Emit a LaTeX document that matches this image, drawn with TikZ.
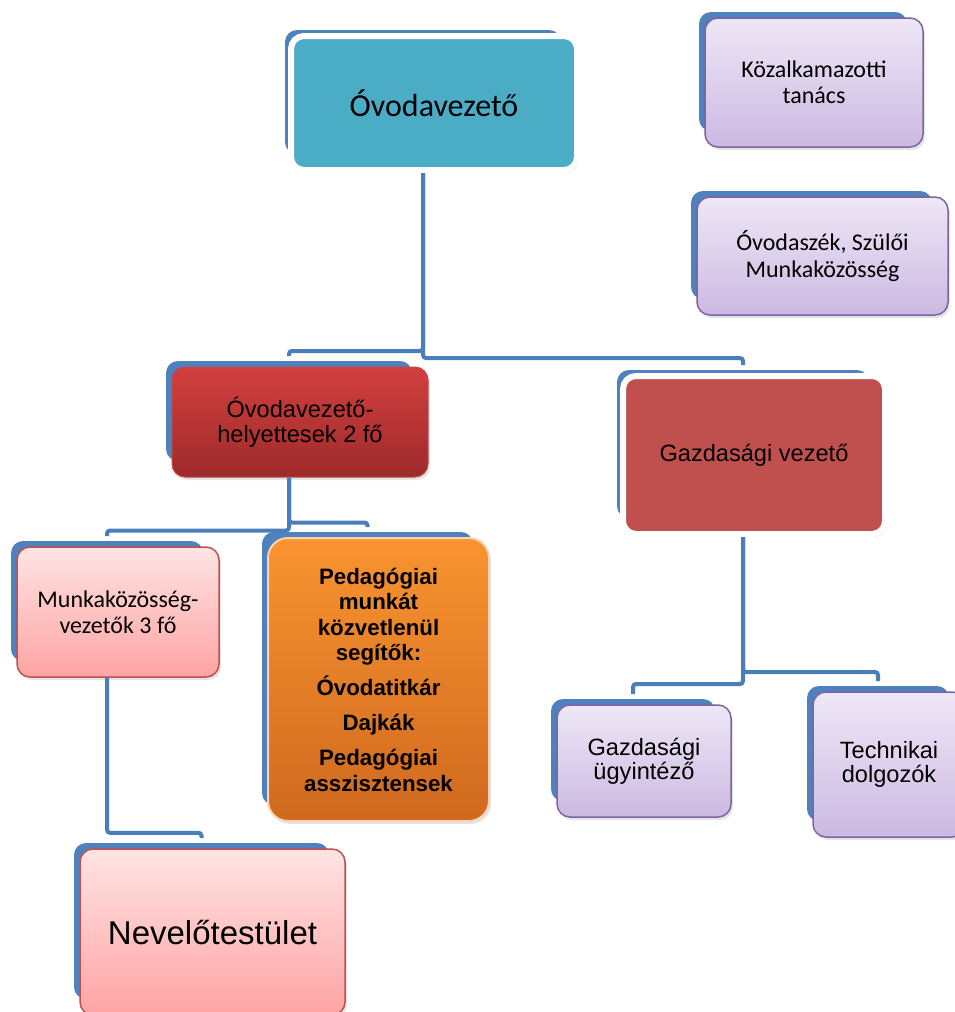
\documentclass[tikz,border=0pt]{standalone}
\usepackage{fontspec}
\newfontfamily\fcal{Carlito}
\newfontfamily\fari{Liberation Sans}
\usetikzlibrary{shadows}
\definecolor{tabc}{HTML}{4F81BD}
\definecolor{connc}{HTML}{4A7EBB}
\definecolor{tealc}{HTML}{4BACC6}
\definecolor{redtop}{HTML}{D23F3F}
\definecolor{redbot}{HTML}{9E2A2A}
\definecolor{redrim}{HTML}{C24848}
\definecolor{gazdc}{HTML}{C0504D}
\definecolor{pinktop}{HTML}{FFE4E4}
\definecolor{pinkbot}{HTML}{FFA3A3}
\definecolor{lavtop}{HTML}{EEE7F6}
\definecolor{lavbot}{HTML}{CCB9E2}
\definecolor{lavrim}{HTML}{8064A2}
\definecolor{orgtop}{HTML}{F99430}
\definecolor{orgbot}{HTML}{CF691F}
\definecolor{orgrim}{HTML}{FBD3B0}
\tikzset{
  base/.style={rectangle, rounded corners=13pt, inner sep=0pt, align=center, text=black,
    drop shadow={shadow xshift=2pt, shadow yshift=-3pt, opacity=0.2}},
  tealbox/.style={base, fill=tealc, draw=white, line width=6pt},
  gazdbox/.style={base, fill=gazdc, draw=white, line width=6pt},
  redbox/.style={base, top color=redtop, bottom color=redbot, draw=redrim, line width=1pt},
  pinkbox/.style={base, top color=pinktop, bottom color=pinkbot, draw=gazdc, line width=1.5pt},
  lavbox/.style={base, top color=lavtop, bottom color=lavbot, draw=lavrim, line width=1.5pt},
  orgbox/.style={base, rounded corners=20pt, top color=orgtop, bottom color=orgbot, draw=orgrim, line width=2pt},
  conn/.style={draw=connc, line width=4pt, rounded corners=3pt},
  calf/.style={font=\fcal\fontsize{24}{26.5}\selectfont},
  arif/.style={font=\fari\fontsize{23.6}{25}\selectfont},
}
% name, x1, y1, x2, y2, style, text
\newcommand{\orgnode}[7]{%
  \fill[tabc, rounded corners=12pt] (#2-6,#3-6) rectangle (#4-16,#5-16);
  \node[#6, minimum width={#4-#2}, minimum height={#5-#3}] (#1) at ({(#2+#4)/2},{(#3+#5)/2}) {#7};
  \coordinate (#1t) at ({(#2+#4)/2-11},{#3-11});
}
\begin{document}
\begin{tikzpicture}[x=1pt,y=-1pt]
\useasboundingbox (0,0) rectangle (955,1012);
\clip (0,0) rectangle (955,1012);
\fill[white] (0,0) rectangle (955,1012);

\orgnode{ovv}{291}{36}{577}{170}{tealbox, font=\fcal\fontsize{32}{38}\selectfont}{Óvodavezető}
\orgnode{kozalk}{705}{18}{923}{147}{lavbox, calf}{Közalkamazotti\\tanács}
\orgnode{szek}{697}{197}{948}{315}{lavbox, calf}{Óvodaszék, Szülői\\Munkaközösség}
\orgnode{hely}{172}{367}{428}{477}{redbox, arif}{Óvodavezető-\\helyettesek 2 fő}
\orgnode{gazd}{623}{376}{885}{534}{gazdbox, arif}{Gazdasági vezető}
\orgnode{munka}{17}{547}{219}{677}{pinkbox, calf}{Munkaközösség-\\vezetők 3 fő}
\orgnode{ped}{268}{538}{489}{821}{orgbox, font=\fari\bfseries\fontsize{22.3}{25.5}\selectfont}{Pedagógiai\\munkát\\közvetlenül\\segítők:\\[9.5pt]Óvodatitkár\\[9.5pt]Dajkák\\[9.5pt]Pedagógiai\\asszisztensek}
\orgnode{nev}{80}{849}{345}{1015}{pinkbox, font=\fari\fontsize{33}{38}\selectfont}{Nevelőtestület}
\orgnode{ugy}{557}{705}{731}{817}{lavbox, font=\fari\fontsize{23.6}{24.5}\selectfont}{Gazdasági\\ügyintéző}
\orgnode{tech}{813}{692}{965}{837}{lavbox, font=\fari\fontsize{23.6}{24}\selectfont}{Technikai\\dolgozók}

\draw[conn] (ovvt |- ovv.south) -- ++(0,178) -| (helyt);
\draw[conn] (ovvt |- ovv.south) -- ++(0,185) -| (gazdt);
\draw[conn] (helyt |- hely.south) -- ++(0,53) -| (munkat);
\draw[conn] (helyt |- hely.south) -- ++(0,45) -| (pedt);
\draw[conn] (munkat |- munka.south) -- ++(0,155) -| (nevt);
\draw[conn] (gazdt |- gazd.south) -- ++(0,147) -| (ugyt);
\draw[conn] (gazdt |- gazd.south) -- ++(0,135) -| (techt);
\end{tikzpicture}
\end{document}
